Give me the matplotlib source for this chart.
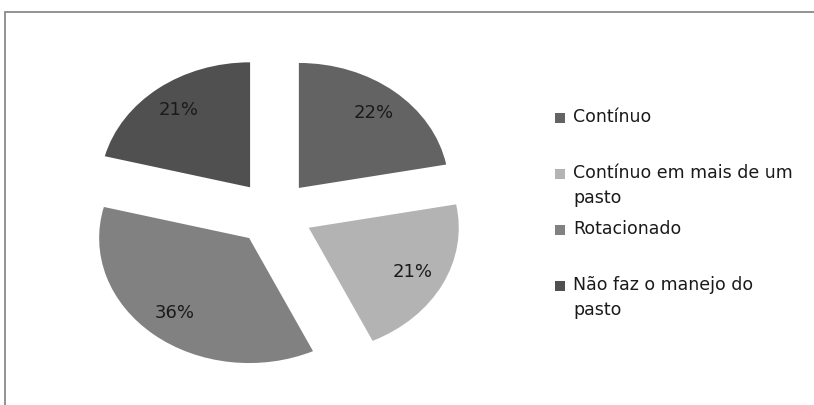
import matplotlib.pyplot as plt
from matplotlib.patches import Rectangle

# categories and shares (%)
labels = ['Contínuo', 'Contínuo em mais de um\npasto', 'Rotacionado',
          'Não faz o manejo do\npasto']
values = [22, 21, 36, 21]
colors = ['#636363', '#b3b3b3', '#818181', '#505050']

plt.rcParams['font.family'] = ['DejaVu Sans']

fig = plt.figure(figsize=(8.14, 4.05), dpi=100)
W, H = 814, 405

# outer frame (cut off at right and bottom)
fig.patches.append(Rectangle((5 / W, -0.1), 1.2, (H - 12) / H + 0.1,
                             transform=fig.transFigure, fill=False,
                             ec='#8a8a8a', lw=1.3))

# pie axes: 150 px per unit across, 125 px per unit down
ax = fig.add_axes([64 / W, 17 / H, 420 / W, 350 / H])
wedges, texts, autotexts = ax.pie(
    values, colors=colors, startangle=90, counterclock=False,
    explode=[0.26] * len(values), pctdistance=0.78,
    autopct=lambda p: f'{p:.0f}%',
    wedgeprops=dict(linewidth=0),
    textprops=dict(fontsize=13, color='#1a1a1a'))
ax.set_aspect('auto')
ax.set_xlim(-1.4, 1.4)
ax.set_ylim(-1.4, 1.4)
ax.axis('off')

# legend: square markers with wrapped labels
y0, step = 118, 56
for i, (lab, col) in enumerate(zip(labels, colors)):
    yc = y0 + i * step
    fig.patches.append(Rectangle((555 / W, (H - yc - 5) / H), 10 / W, 10 / H,
                                 transform=fig.transFigure, fc=col, ec='none'))
    fig.text(573 / W, (H - yc + 10) / H, lab, fontsize=12.5, color='#1a1a1a',
             va='top', ha='left', linespacing=1.5)

fig.savefig('out.png', dpi=100)
